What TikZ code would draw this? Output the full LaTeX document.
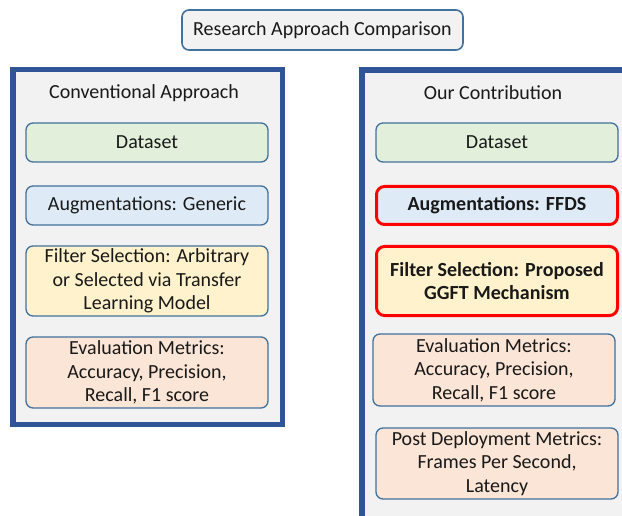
\documentclass[tikz,border=0pt]{standalone}
\usepackage{fontspec}
\setmainfont{Carlito}
\definecolor{panelfill}{HTML}{F2F2F2}
\definecolor{panelborder}{HTML}{2F5597}
\definecolor{boxborder}{HTML}{41719C}
\definecolor{dsfill}{HTML}{E2EFDA}
\definecolor{augfill}{HTML}{DEEBF7}
\definecolor{filtfill}{HTML}{FFF2CC}
\definecolor{evalfill}{HTML}{FBE5D6}
\definecolor{hired}{HTML}{FF0000}
\begin{document}
\begin{tikzpicture}[x=1pt,y=-1pt,
  every node/.style={font=\fontsize{20}{23.5}\selectfont, text=black!90, inner sep=0pt, align=center},
  panel/.style={draw=panelborder, fill=panelfill, line width=5.5pt},
  stepbox/.style={draw=boxborder, line width=1.3pt, rounded corners=7pt, minimum width=242pt},
  hibox/.style={draw=hired, line width=3pt, rounded corners=8pt, minimum width=241pt, font=\fontsize{20}{23.5}\selectfont\bfseries},
  titlebox/.style={draw=boxborder, fill=panelfill, line width=1.6pt, rounded corners=7pt}
]
\useasboundingbox (0,0) rectangle (622,516);
% panels
\draw[panel] (12.75,69.75) rectangle (282.25,424.5);
\begin{scope}
\clip (0,0) rectangle (622,516);
\draw[panel] (362,70) rectangle (640,540);
\end{scope}
% title
\node[titlebox, minimum width=281pt, minimum height=40pt] (title) at (322.5,30) {Research Approach Comparison};
% left
\node (lhead) at (144,93) {Conventional Approach};
\node[stepbox, fill=dsfill, minimum height=39pt] (lds) at (147,142.5) {Dataset};
\node[stepbox, fill=augfill, minimum height=39pt] (laug) at (147,205.5) {Augmentations: Generic};
\node[stepbox, fill=filtfill, minimum height=70pt] (lfilt) at (147,281) {Filter Selection: Arbitrary\\or Selected via Transfer\\Learning Model};
\node[stepbox, fill=evalfill, minimum height=71pt] (leval) at (147,372.5) {Evaluation Metrics:\\Accuracy, Precision,\\Recall, F1 score};
% right
\node (rhead) at (493,93) {Our Contribution};
\node[stepbox, fill=dsfill, minimum height=39pt] (rds) at (497,142.5) {Dataset};
\node[hibox, fill=augfill, minimum height=38pt] (raug) at (497,205.5) {Augmentations: FFDS};
\node[hibox, fill=filtfill, minimum height=69pt] (rfilt) at (497,281) {Filter Selection: Proposed\\GGFT Mechanism};
\node[stepbox, fill=evalfill, minimum height=72pt] (reval) at (494,370) {Evaluation Metrics:\\Accuracy, Precision,\\Recall, F1 score};
\node[stepbox, fill=evalfill, minimum height=71pt] (rpost) at (497,463.5) {Post Deployment Metrics:\\Frames Per Second,\\Latency};
\end{tikzpicture}
\end{document}
